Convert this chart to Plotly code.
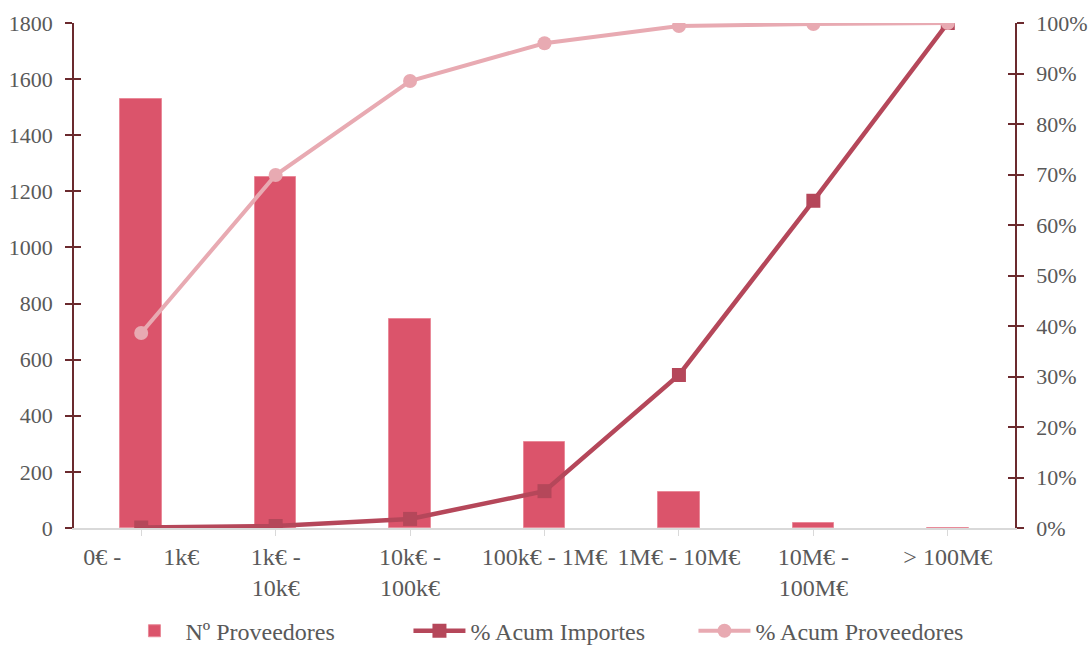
import plotly.graph_objects as go

categories = ["0€ -\u00a0\u00a0\u00a0\u00a0\u00a0\u00a0\u00a01k€", "1k€ -<br>10k€", "10k€ -<br>100k€",
              "100k€ - 1M€", "1M€ - 10M€", "10M€ -<br>100M€", "> 100M€"]
n_proveedores = [1530, 1250, 745, 305, 128, 18, 1]
acum_importes = [0.001, 0.004, 0.018, 0.073, 0.303, 0.648, 1.0]
acum_proveedores = [0.386, 0.699, 0.885, 0.960, 0.994, 0.998, 1.0]

FONT = "Liberation Serif, Times New Roman, serif"
TXT = "#595959"
AX = "#6b2a2e"
FS = 22
FSX = 24

x = list(range(len(categories)))

fig = go.Figure()
fig.add_trace(go.Bar(x=x, y=n_proveedores, name="Nº Proveedores",
                     marker=dict(color="#db546b", line=dict(color="#e98a99", width=1)),
                     width=0.31, yaxis="y"))
fig.add_trace(go.Scatter(x=x, y=acum_importes, name="% Acum Importes", mode="lines+markers",
                         line=dict(color="#b5475a", width=4.5),
                         marker=dict(symbol="square", size=14, color="#b5475a"),
                         yaxis="y2"))
fig.add_trace(go.Scatter(x=x, y=acum_proveedores, name="% Acum Proveedores", mode="lines+markers",
                         line=dict(color="#e8aab2", width=4),
                         marker=dict(symbol="circle", size=14, color="#e8aab2"),
                         yaxis="y2"))
# helper traces so the inside-tick overlay axes render
fig.add_trace(go.Scatter(x=[], y=[], yaxis="y3", showlegend=False, hoverinfo="skip"))
fig.add_trace(go.Scatter(x=[], y=[], yaxis="y4", showlegend=False, hoverinfo="skip"))

fig.update_layout(
    template="none",
    width=1091, height=646,
    margin=dict(l=74, r=76, t=23, b=118),
    paper_bgcolor="white", plot_bgcolor="white",
    font=dict(family=FONT, size=FS, color=TXT),
    bargap=0,
    xaxis=dict(range=[-0.5, 6.5], tickvals=x, ticktext=categories, automargin=False,
               showline=True, linecolor="#d9d9d9", linewidth=1.5,
               tickson="boundaries", ticks="outside", ticklen=6, tickcolor="#d9d9d9",
               showgrid=False, zeroline=False, tickfont=dict(size=FSX, color=TXT)),
    yaxis=dict(range=[0, 1800], dtick=200, showline=True, linecolor=AX, linewidth=1.5,
               ticks="outside", ticklen=7, tickcolor=AX, tickwidth=1.5, automargin=False,
               ticklabelstandoff=8,
               showgrid=False, zeroline=False, tickfont=dict(size=FS, color=TXT)),
    yaxis2=dict(range=[0, 1], dtick=0.1, tickformat=".0%", overlaying="y", side="right",
                showline=True, linecolor=AX, linewidth=1.5, automargin=False,
                ticks="outside", ticklen=7, tickcolor=AX, tickwidth=1.5,
                ticklabelstandoff=8,
                showgrid=False, zeroline=False, tickfont=dict(size=FS, color=TXT)),
    yaxis3=dict(range=[0, 1800], dtick=200, overlaying="y", side="left", automargin=False,
                ticks="inside", ticklen=7, tickcolor=AX, tickwidth=1.5,
                showticklabels=False, showgrid=False, zeroline=False, showline=False),
    yaxis4=dict(range=[0, 1], dtick=0.1, overlaying="y", side="right", automargin=False,
                ticks="inside", ticklen=7, tickcolor=AX, tickwidth=1.5,
                showticklabels=False, showgrid=False, zeroline=False, showline=False),
    legend=dict(orientation="h", xref="container", yref="container",
                x=0.505, xanchor="center", y=0.023, yanchor="middle",
                font=dict(size=FSX, color=TXT), itemwidth=52,
                entrywidth=218, entrywidthmode="pixels", traceorder="normal",
                bgcolor="rgba(0,0,0,0)"),
)

fig.write_html("out.html")
